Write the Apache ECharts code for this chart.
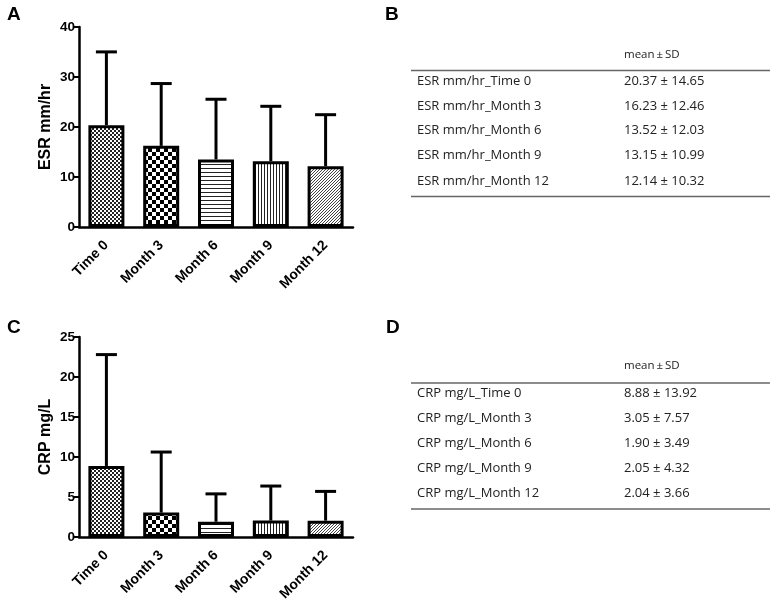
<!DOCTYPE html>
<html><head><meta charset="utf-8">
<script src="https://cdn.jsdelivr.net/npm/echarts@6/dist/echarts.min.js"></script>
<style>html,body{margin:0;padding:0;background:#fff}#c{width:777px;height:610px}</style>
</head><body><div id="c"></div>
<script>
const categories = ['Time 0', 'Month 3', 'Month 6', 'Month 9', 'Month 12'];
const esrMean = [20.37, 16.23, 13.52, 13.15, 12.14];
const esrSD = [14.65, 12.46, 12.03, 10.99, 10.32];
const crpMean = [8.88, 3.05, 1.90, 2.05, 2.04];
const crpSD = [13.92, 7.57, 3.49, 4.32, 3.66];
const esrPrefix = 'ESR mm/hr_';
const crpPrefix = 'CRP mg/L_';
const tableHeader = 'mean\u2009\u00b1\u2009SD';

function pat(w, h, draw) {
  const c = document.createElement('canvas');
  c.width = w; c.height = h;
  const g = c.getContext('2d');
  g.fillStyle = '#fff'; g.fillRect(0, 0, w, h);
  draw(g);
  return c;
}
const patterns = [
  pat(4, 4, g => { g.fillStyle = '#222'; g.fillRect(0, 0, 2, 2); g.fillRect(2, 2, 2, 2); }),
  pat(8, 8, g => { g.fillStyle = '#000'; g.fillRect(0, 0, 4, 4); g.fillRect(4, 4, 4, 4); }),
  pat(4, 4, g => { g.fillStyle = '#222'; g.fillRect(0, 0, 4, 1); }),
  pat(3, 3, g => { g.fillStyle = '#222'; g.fillRect(0, 0, 1, 3); }),
  pat(3, 3, g => { g.fillStyle = '#444'; g.fillRect(2, 0, 1, 1); g.fillRect(1, 1, 1, 1); g.fillRect(0, 2, 1, 1); })
];

const axisFont = { fontFamily: 'Liberation Sans', fontWeight: 'bold', color: '#000' };

function xAxis(gi) {
  return {
    type: 'category', gridIndex: gi, data: categories,
    axisLine: { lineStyle: { color: '#000', width: 2.5 } },
    axisTick: { alignWithLabel: true, length: 6, lineStyle: { color: '#000', width: 2 } },
    axisLabel: Object.assign({ rotate: 45, margin: 16, interval: 0, fontSize: 14 }, axisFont)
  };
}
function yAxis(gi, max, interval, name) {
  return {
    type: 'value', gridIndex: gi, min: 0, max: max, interval: interval,
    name: name, nameLocation: 'middle', nameRotate: 90, nameGap: 25,
    nameTextStyle: { fontFamily: 'Liberation Sans', fontWeight: 'bold', fontSize: 16, color: '#000' },
    axisLine: { show: true, lineStyle: { color: '#000', width: 2.5 } },
    axisTick: { show: true, length: 5, lineStyle: { color: '#000', width: 2 } },
    axisLabel: Object.assign({ margin: 4, fontSize: 13.5 }, axisFont),
    splitLine: { show: false }
  };
}
function barSeries(gi, means) {
  return {
    type: 'bar', xAxisIndex: gi, yAxisIndex: gi, barWidth: 36, z: 2,
    data: means.map((v, i) => ({ value: v, itemStyle: { color: { image: patterns[i], repeat: 'repeat' } } })),
    itemStyle: { borderColor: '#000', borderWidth: 3 },
    silent: true
  };
}
function errSeries(gi, means, sds) {
  return {
    type: 'custom', xAxisIndex: gi, yAxisIndex: gi, z: 3, silent: true,
    data: means.map((m, i) => [i, m, sds[i]]),
    renderItem: function (params, api) {
      const x = api.value(0), m = api.value(1), s = api.value(2);
      const p0 = api.coord([x, m]);
      const p1 = api.coord([x, m + s]);
      const st = { stroke: '#000', lineWidth: 3 };
      return {
        type: 'group', children: [
          { type: 'line', shape: { x1: p0[0], y1: p0[1], x2: p1[0], y2: p1[1] }, style: st },
          { type: 'line', shape: { x1: p1[0] - 10.5, y1: p1[1], x2: p1[0] + 10.5, y2: p1[1] }, style: st }
        ]
      };
    }
  };
}

function table(prefix, means, sds, headerY, ruleTop, rowYs, ruleBottom) {
  const els = [];
  const tf = { fontFamily: 'Open Sans', fontSize: 13, fill: '#222' };
  els.push({ type: 'text', x: 624, y: headerY, style: Object.assign({}, tf, { text: tableHeader, fontSize: 11.5, textVerticalAlign: 'middle' }) });
  els.push({ type: 'line', shape: { x1: 411, y1: ruleTop, x2: 770, y2: ruleTop }, style: { stroke: '#666', lineWidth: 1.5 } });
  els.push({ type: 'line', shape: { x1: 411, y1: ruleBottom, x2: 770, y2: ruleBottom }, style: { stroke: '#666', lineWidth: 1.5 } });
  categories.forEach((c, i) => {
    els.push({ type: 'text', x: 417, y: rowYs[i], style: Object.assign({}, tf, { text: prefix + c, textVerticalAlign: 'middle' }) });
    els.push({ type: 'text', x: 624, y: rowYs[i], style: Object.assign({}, tf, { text: means[i].toFixed(2) + ' \u00b1 ' + sds[i].toFixed(2), textVerticalAlign: 'middle' }) });
  });
  return els;
}

const letterStyle = { fontFamily: 'Liberation Sans', fontWeight: 'bold', fontSize: 19, fill: '#000' };
const graphics = [
  { type: 'text', left: 7, top: 5, style: Object.assign({ text: 'A' }, letterStyle) },
  { type: 'text', left: 7, top: 318, style: Object.assign({ text: 'C' }, letterStyle) },
  { type: 'text', left: 385, top: 5, style: Object.assign({ text: 'B' }, letterStyle) },
  { type: 'text', left: 386, top: 318, style: Object.assign({ text: 'D' }, letterStyle) }
].concat(
  table(esrPrefix, esrMean, esrSD, 55, 70.5, [81, 106, 130, 155, 181], 196.5),
  table(crpPrefix, crpMean, crpSD, 366, 383, [393, 418, 443, 468, 493], 509)
);

const chart = echarts.init(document.getElementById('c'), null, { renderer: 'canvas' });
chart.setOption({
  animation: false,
  backgroundColor: '#fff',
  grid: [
    { left: 79, top: 27, width: 274, height: 200 },
    { left: 79, top: 337, width: 274, height: 200 }
  ],
  xAxis: [xAxis(0), xAxis(1)],
  yAxis: [yAxis(0, 40, 10, 'ESR mm/hr'), yAxis(1, 25, 5, 'CRP mg/L')],
  series: [barSeries(0, esrMean), errSeries(0, esrMean, esrSD), barSeries(1, crpMean), errSeries(1, crpMean, crpSD)],
  graphic: graphics
});
</script>
</body></html>
